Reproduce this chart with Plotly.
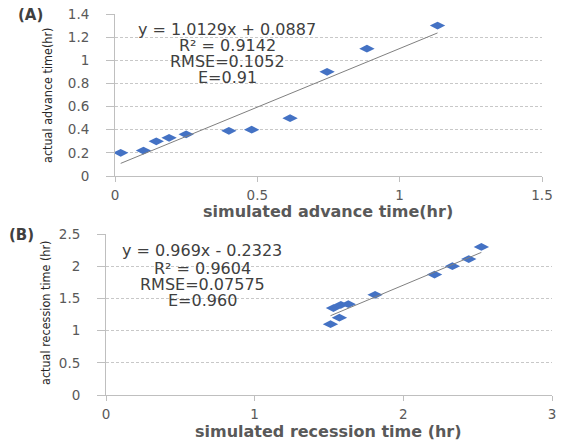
import plotly.graph_objects as go

# ---- data ----
a_sim = [0.02, 0.10, 0.145, 0.19, 0.25, 0.40, 0.48, 0.615, 0.745, 0.885, 1.133]
a_act = [0.20, 0.22, 0.30, 0.33, 0.36, 0.39, 0.40, 0.50, 0.90, 1.10, 1.30]
a_slope, a_intercept = 1.0129, 0.0887
a_stats = ["y = 1.0129x + 0.0887", "R² = 0.9142", "RMSE=0.1052", "E=0.91"]

b_sim = [1.51, 1.53, 1.57, 1.58, 1.63, 1.81, 2.21, 2.33, 2.44, 2.525]
b_act = [1.10, 1.35, 1.20, 1.40, 1.41, 1.555, 1.87, 2.00, 2.11, 2.30]
b_slope, b_intercept = 0.969, -0.2323
b_stats = ["y = 0.969x - 0.2323", "R² = 0.9604", "RMSE=0.07575", "E=0.960"]

a_yticks = [0, 0.2, 0.4, 0.6, 0.8, 1, 1.2, 1.4]
a_xticks = [0, 0.5, 1, 1.5]
b_yticks = [0, 0.5, 1, 1.5, 2, 2.5]
b_xticks = [0, 1, 2, 3]

W, H = 561, 440
BLUE = "#4472C4"
GRID = "#c8c8c8"
AXC = "#bfbfbf"
TXT = "#404040"
TICKF = dict(family="DejaVu Sans", size=13.5, color="#595959")


def px(x):
    return x / W


def py(y):
    return 1 - y / H


fig = go.Figure()

# Panel A
fig.add_trace(go.Scatter(x=a_sim, y=a_act, mode="markers",
                         marker=dict(symbol="diamond-wide", size=11, color=BLUE),
                         xaxis="x", yaxis="y", showlegend=False))
ax0, ax1 = min(a_sim), max(a_sim)
fig.add_trace(go.Scatter(x=[ax0, ax1], y=[a_slope * ax0 + a_intercept, a_slope * ax1 + a_intercept],
                         mode="lines", line=dict(color="#808080", width=1),
                         xaxis="x", yaxis="y", showlegend=False))

# Panel B
fig.add_trace(go.Scatter(x=b_sim, y=b_act, mode="markers",
                         marker=dict(symbol="diamond-wide", size=11, color=BLUE),
                         xaxis="x2", yaxis="y2", showlegend=False))
bx0, bx1 = min(b_sim), max(b_sim)
fig.add_trace(go.Scatter(x=[bx0, bx1], y=[b_slope * bx0 + b_intercept, b_slope * bx1 + b_intercept],
                         mode="lines", line=dict(color="#808080", width=1),
                         xaxis="x2", yaxis="y2", showlegend=False))


def xax(domain, rng, ticks, anchor):
    return dict(domain=domain, range=rng, tickvals=ticks, ticktext=[str(t) for t in ticks],
                showgrid=False, zeroline=False, showline=True, linecolor=AXC, linewidth=1,
                ticks="outside", ticklen=5, tickcolor=AXC, tickfont=TICKF,
                ticklabelstandoff=2, anchor=anchor, fixedrange=True, automargin=False)


def yax(domain, rng, ticks, anchor):
    return dict(domain=domain, range=rng, tickvals=ticks, ticktext=[str(t) for t in ticks],
                showgrid=True, gridcolor=GRID, griddash="3px,2px", gridwidth=1,
                zeroline=False, showline=True, linecolor=AXC, linewidth=1,
                ticks="outside", ticklen=8, tickcolor=AXC, tickfont=TICKF,
                ticklabelstandoff=14, anchor=anchor, fixedrange=True, automargin=False)


fig.update_layout(
    width=W, height=H,
    margin=dict(l=0, r=0, t=0, b=0, pad=0, autoexpand=False),
    paper_bgcolor="white", plot_bgcolor="white",
    xaxis=xax([px(115), px(542)], [0, 1.5], a_xticks, "y"),
    yaxis=yax([py(176), py(14)], [0, 1.4], a_yticks, "x"),
    xaxis2=xax([px(106), px(552)], [0, 3], b_xticks, "y2"),
    yaxis2=yax([py(395), py(234)], [0, 2.5], b_yticks, "x2"),
)

ann = []
STATF = dict(family="DejaVu Sans", size=16, color=TXT)
for txt, yy in zip(a_stats, [30, 45.5, 61.5, 77]):
    ann.append(dict(x=px(227), y=py(yy), xref="paper", yref="paper", text=txt,
                    showarrow=False, font=STATF, xanchor="center", yanchor="middle"))
for txt, yy in zip(b_stats, [250, 268, 284, 300]):
    ann.append(dict(x=px(202), y=py(yy), xref="paper", yref="paper", text=txt,
                    showarrow=False, font=STATF, xanchor="center", yanchor="middle"))

LBLF = dict(family="DejaVu Sans", size=15, color=TXT)
ann.append(dict(x=px(30), y=py(15), xref="paper", yref="paper", text="<b>(A)</b>",
                showarrow=False, font=LBLF, xanchor="center", yanchor="middle"))
ann.append(dict(x=px(21), y=py(235), xref="paper", yref="paper", text="<b>(B)</b>",
                showarrow=False, font=LBLF, xanchor="center", yanchor="middle"))

XTF = dict(family="DejaVu Sans", size=16, color="#595959")
ann.append(dict(x=px(328), y=py(211.5), xref="paper", yref="paper",
                text="<b>simulated advance time(hr)</b>",
                showarrow=False, font=XTF, xanchor="center", yanchor="middle"))
ann.append(dict(x=px(328), y=py(431), xref="paper", yref="paper",
                text="<b>simulated recession time (hr)</b>",
                showarrow=False, font=XTF, xanchor="center", yanchor="middle"))

YTF = dict(family="DejaVu Sans Condensed, Liberation Sans Narrow, Arial Narrow, sans-serif",
           size=12.5, color="#262626")
ann.append(dict(x=px(47), y=py(95), xref="paper", yref="paper",
                text="actual advance time(hr)", textangle=-90,
                showarrow=False, font=YTF, xanchor="center", yanchor="middle"))
ann.append(dict(x=px(45), y=py(313), xref="paper", yref="paper",
                text="actual recession time (hr)", textangle=-90,
                showarrow=False, font=YTF, xanchor="center", yanchor="middle"))

fig.update_layout(annotations=ann)
fig.write_html("out.html", config={"displayModeBar": False},
               post_script="document.body.style.margin='0';")
